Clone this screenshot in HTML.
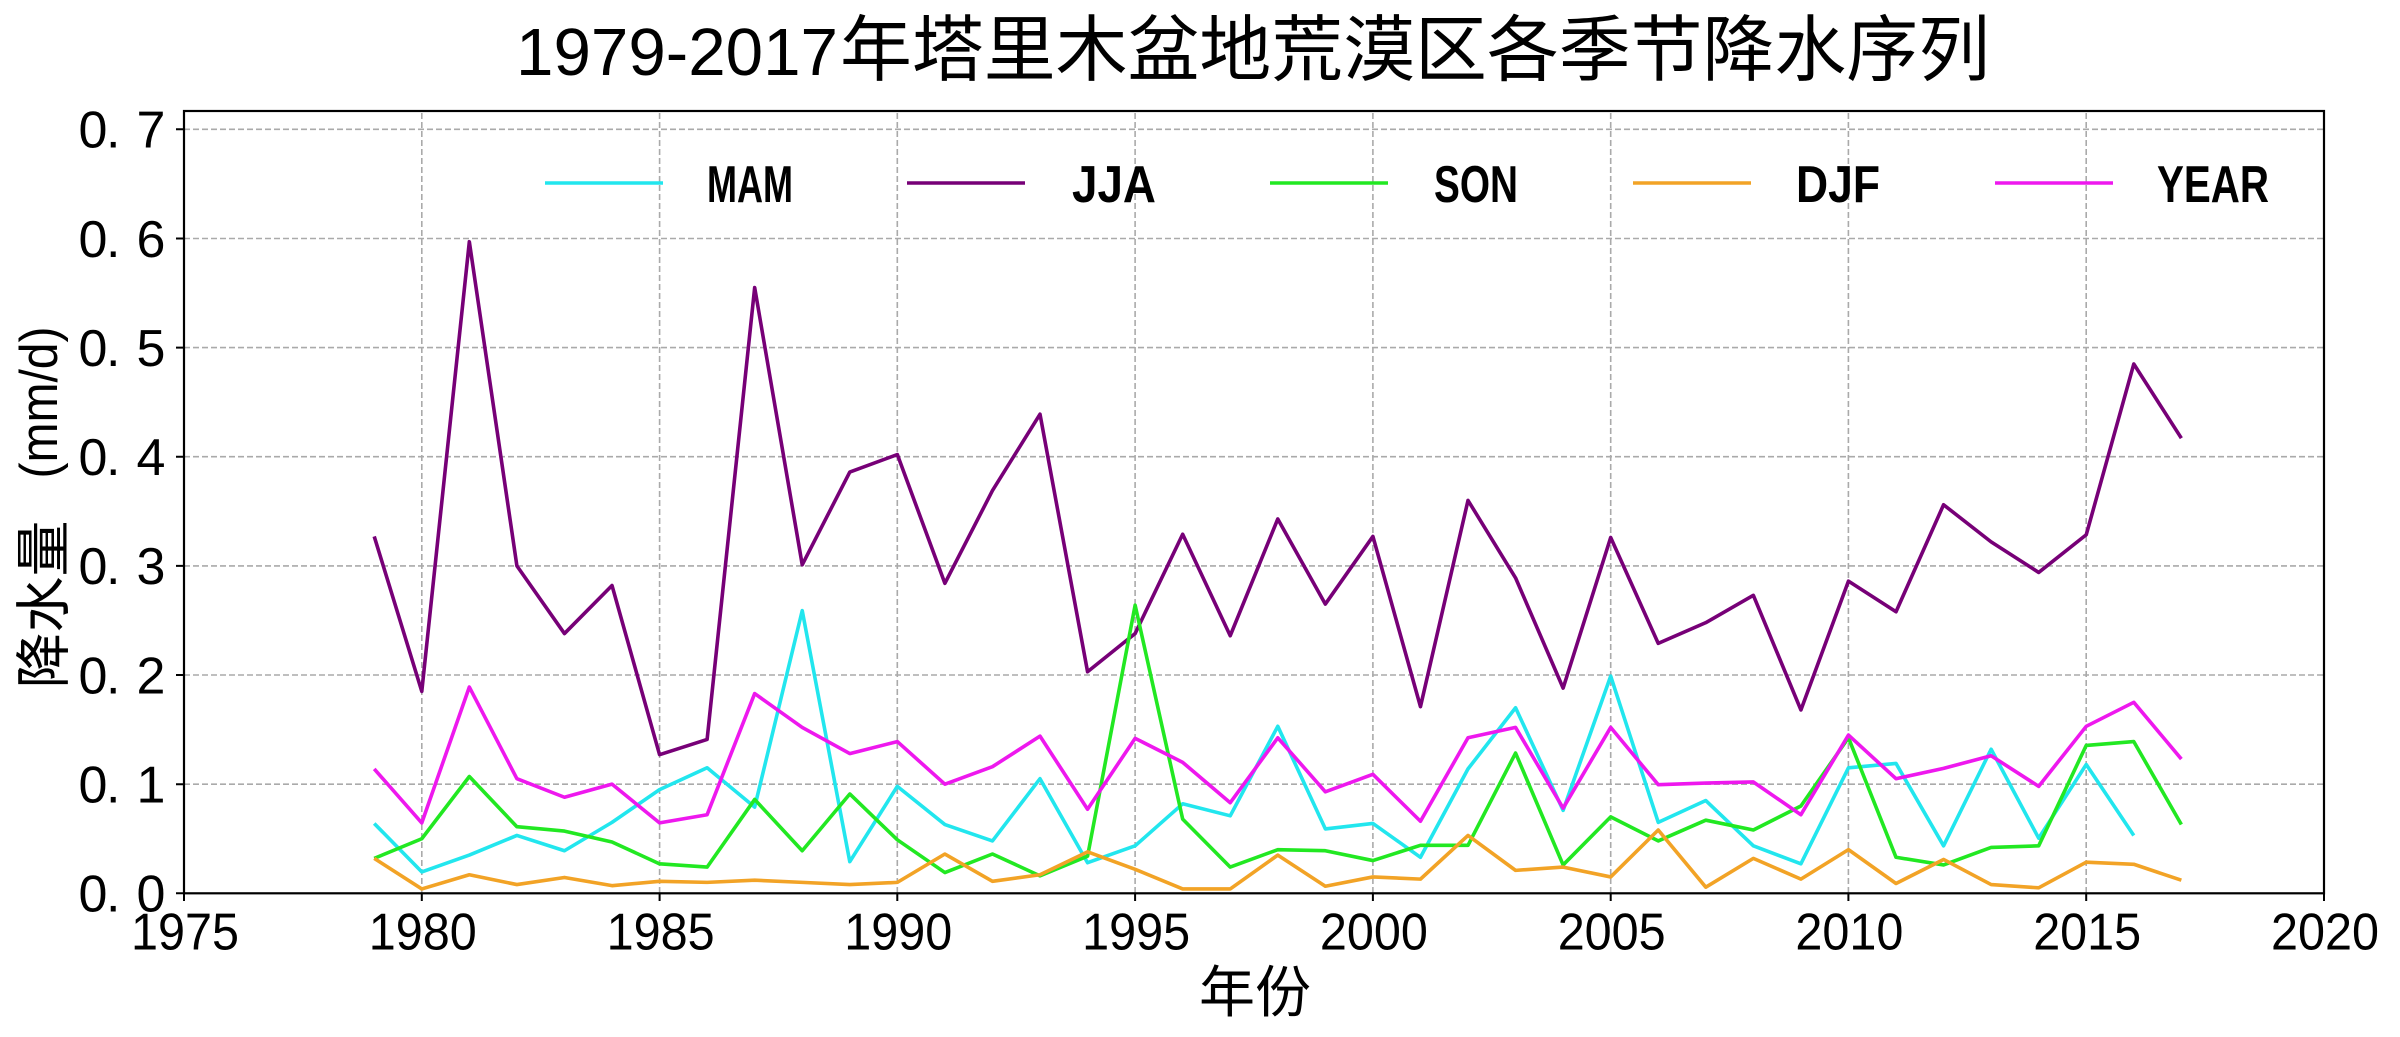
<!DOCTYPE html>
<html>
<head>
<meta charset="utf-8">
<style>
html,body{margin:0;padding:0;background:#fff;}
svg{display:block;}
</style>
</head>
<body>
<svg width="2400" height="1037" viewBox="0 0 2400 1037" xmlns="http://www.w3.org/2000/svg">
<rect x="0" y="0" width="2400" height="1037" fill="#fff"/>

<!-- Title -->
<text x="516" y="75" font-family="Liberation Sans, sans-serif" font-size="67" textLength="322" lengthAdjust="spacingAndGlyphs" fill="#000">1979-2017</text>
<text x="840" y="75" font-family="Liberation Sans, 'Noto Sans CJK SC', sans-serif" font-size="72" textLength="1150" lengthAdjust="spacingAndGlyphs" fill="#000">年塔里木盆地荒漠区各季节降水序列</text>

<!-- Gridlines -->
<g stroke="#aaaaaa" stroke-width="1.6" stroke-dasharray="6 3" fill="none">
  <path d="M421.8 893V111 M659.6 893V111 M897.3 893V111 M1135.1 893V111 M1372.9 893V111 M1610.7 893V111 M1848.4 893V111 M2086.2 893V111"/>
  <path d="M184 784.2H2324 M184 675.0H2324 M184 565.9H2324 M184 456.7H2324 M184 347.6H2324 M184 238.5H2324 M184 129.3H2324"/>
</g>

<!-- Data series -->
<g transform="translate(184,893.3) scale(47.556,-1091.4)" fill="none" stroke-linejoin="round" stroke-linecap="butt">
  <polyline vector-effect="non-scaling-stroke" stroke="#22e6ee" stroke-width="3.6" points="4,0.064 5,0.0196 6,0.035 7,0.053 8,0.039 9,0.065 10,0.095 11,0.115 12,0.079 13,0.259 14,0.029 15,0.098 16,0.063 17,0.048 18,0.105 19,0.028 20,0.0435 21,0.082 22,0.071 23,0.153 24,0.059 25,0.064 26,0.033 27,0.114 28,0.170 29,0.076 30,0.199 31,0.065 32,0.085 33,0.0435 34,0.027 35,0.115 36,0.119 37,0.0435 38,0.132 39,0.0505 40,0.118 41,0.053"/>
  <polyline vector-effect="non-scaling-stroke" stroke="#770077" stroke-width="3.6" points="4,0.327 5,0.185 6,0.597 7,0.300 8,0.238 9,0.282 10,0.127 11,0.141 12,0.555 13,0.301 14,0.386 15,0.402 16,0.284 17,0.369 18,0.439 19,0.203 20,0.238 21,0.329 22,0.236 23,0.343 24,0.265 25,0.327 26,0.171 27,0.360 28,0.289 29,0.188 30,0.326 31,0.229 32,0.248 33,0.273 34,0.168 35,0.286 36,0.258 37,0.356 38,0.322 39,0.294 40,0.3285 41,0.485 42,0.417"/>
  <polyline vector-effect="non-scaling-stroke" stroke="#22e822" stroke-width="3.6" points="4,0.032 5,0.050 6,0.107 7,0.061 8,0.057 9,0.047 10,0.027 11,0.024 12,0.086 13,0.039 14,0.091 15,0.049 16,0.019 17,0.036 18,0.016 19,0.034 20,0.264 21,0.068 22,0.024 23,0.040 24,0.039 25,0.030 26,0.044 27,0.044 28,0.1285 29,0.026 30,0.070 31,0.048 32,0.067 33,0.058 34,0.080 35,0.1425 36,0.033 37,0.026 38,0.042 39,0.0435 40,0.1355 41,0.139 42,0.063"/>
  <polyline vector-effect="non-scaling-stroke" stroke="#f2a326" stroke-width="3.6" points="4,0.032 5,0.004 6,0.017 7,0.008 8,0.0145 9,0.007 10,0.011 11,0.010 12,0.012 13,0.010 14,0.008 15,0.010 16,0.036 17,0.011 18,0.017 19,0.038 20,0.022 21,0.004 22,0.004 23,0.035 24,0.0065 25,0.015 26,0.013 27,0.053 28,0.021 29,0.024 30,0.015 31,0.058 32,0.0056 33,0.032 34,0.013 35,0.040 36,0.009 37,0.031 38,0.008 39,0.005 40,0.0285 41,0.0266 42,0.012"/>
  <polyline vector-effect="non-scaling-stroke" stroke="#ee18ee" stroke-width="3.6" points="4,0.114 5,0.0645 6,0.189 7,0.105 8,0.088 9,0.100 10,0.0645 11,0.072 12,0.183 13,0.152 14,0.128 15,0.139 16,0.100 17,0.116 18,0.144 19,0.077 20,0.142 21,0.120 22,0.083 23,0.1425 24,0.093 25,0.109 26,0.066 27,0.1425 28,0.152 29,0.078 30,0.152 31,0.0995 32,0.101 33,0.102 34,0.072 35,0.145 36,0.105 37,0.1145 38,0.126 39,0.098 40,0.153 41,0.175 42,0.123"/>
</g>

<!-- Axes spines -->
<rect x="184" y="111" width="2140" height="782.3" fill="none" stroke="#000" stroke-width="2.2"/>

<!-- Ticks -->
<g stroke="#000" stroke-width="2">
  <path d="M184 893V901 M421.8 893V901 M659.6 893V901 M897.3 893V901 M1135.1 893V901 M1372.9 893V901 M1610.7 893V901 M1848.4 893V901 M2086.2 893V901 M2324 893V901"/>
  <path d="M176 893.3H184 M176 784.2H184 M176 675.0H184 M176 565.9H184 M176 456.7H184 M176 347.6H184 M176 238.5H184 M176 129.3H184"/>
</g>

<!-- Y tick labels: "0. N" style -->
<g font-family="Liberation Sans, sans-serif" font-size="52" fill="#000">
  <text x="93" y="911.6" text-anchor="middle">0</text><text x="106" y="911.6">.</text><text x="151" y="911.6" text-anchor="middle">0</text>
  <text x="93" y="802.5" text-anchor="middle">0</text><text x="106" y="802.5">.</text><text x="151" y="802.5" text-anchor="middle">1</text>
  <text x="93" y="693.3" text-anchor="middle">0</text><text x="106" y="693.3">.</text><text x="151" y="693.3" text-anchor="middle">2</text>
  <text x="93" y="584.2" text-anchor="middle">0</text><text x="106" y="584.2">.</text><text x="151" y="584.2" text-anchor="middle">3</text>
  <text x="93" y="475.0" text-anchor="middle">0</text><text x="106" y="475.0">.</text><text x="151" y="475.0" text-anchor="middle">4</text>
  <text x="93" y="365.9" text-anchor="middle">0</text><text x="106" y="365.9">.</text><text x="151" y="365.9" text-anchor="middle">5</text>
  <text x="93" y="256.8" text-anchor="middle">0</text><text x="106" y="256.8">.</text><text x="151" y="256.8" text-anchor="middle">6</text>
  <text x="93" y="147.6" text-anchor="middle">0</text><text x="106" y="147.6">.</text><text x="151" y="147.6" text-anchor="middle">7</text>
</g>

<!-- X tick labels -->
<g font-family="Liberation Sans, sans-serif" font-size="52" fill="#000" text-anchor="middle">
  <text x="185" y="949.5" textLength="108" lengthAdjust="spacingAndGlyphs">1975</text>
  <text x="422.8" y="949.5" textLength="108" lengthAdjust="spacingAndGlyphs">1980</text>
  <text x="660.6" y="949.5" textLength="108" lengthAdjust="spacingAndGlyphs">1985</text>
  <text x="898.3" y="949.5" textLength="108" lengthAdjust="spacingAndGlyphs">1990</text>
  <text x="1136.1" y="949.5" textLength="108" lengthAdjust="spacingAndGlyphs">1995</text>
  <text x="1373.9" y="949.5" textLength="108" lengthAdjust="spacingAndGlyphs">2000</text>
  <text x="1611.7" y="949.5" textLength="108" lengthAdjust="spacingAndGlyphs">2005</text>
  <text x="1849.4" y="949.5" textLength="108" lengthAdjust="spacingAndGlyphs">2010</text>
  <text x="2087.2" y="949.5" textLength="108" lengthAdjust="spacingAndGlyphs">2015</text>
  <text x="2325" y="949.5" textLength="108" lengthAdjust="spacingAndGlyphs">2020</text>
</g>

<!-- X axis label -->
<text x="1255" y="1012" text-anchor="middle" font-family="Liberation Sans, 'Noto Sans CJK SC', sans-serif" font-size="56" fill="#000">年份</text>

<!-- Y axis label -->
<g transform="translate(43,506.5) rotate(-90)" fill="#000">
  <text x="-182" y="20.7" font-family="Liberation Sans, 'Noto Sans CJK SC', sans-serif" font-size="56" textLength="168" lengthAdjust="spacingAndGlyphs">降水量</text>
  <text x="28" y="14" font-family="Liberation Sans, sans-serif" font-size="53" textLength="152" lengthAdjust="spacingAndGlyphs">(mm/d)</text>
</g>

<!-- Legend -->
<g stroke-width="3.6" fill="none">
  <path d="M545 183H663" stroke="#22e6ee"/>
  <path d="M907 183H1025" stroke="#770077"/>
  <path d="M1270 183H1388" stroke="#22e822"/>
  <path d="M1633 183H1751" stroke="#f2a326"/>
  <path d="M1995 183H2113" stroke="#ee18ee"/>
</g>
<g font-family="Liberation Sans, sans-serif" font-weight="bold" font-size="52" fill="#000">
  <text x="707" y="202" textLength="86" lengthAdjust="spacingAndGlyphs">MAM</text>
  <text x="1072" y="202" textLength="84" lengthAdjust="spacingAndGlyphs">JJA</text>
  <text x="1434" y="202" textLength="84" lengthAdjust="spacingAndGlyphs">SON</text>
  <text x="1796" y="202" textLength="84" lengthAdjust="spacingAndGlyphs">DJF</text>
  <text x="2157" y="202" textLength="112" lengthAdjust="spacingAndGlyphs">YEAR</text>
</g>
</svg>
</body>
</html>
